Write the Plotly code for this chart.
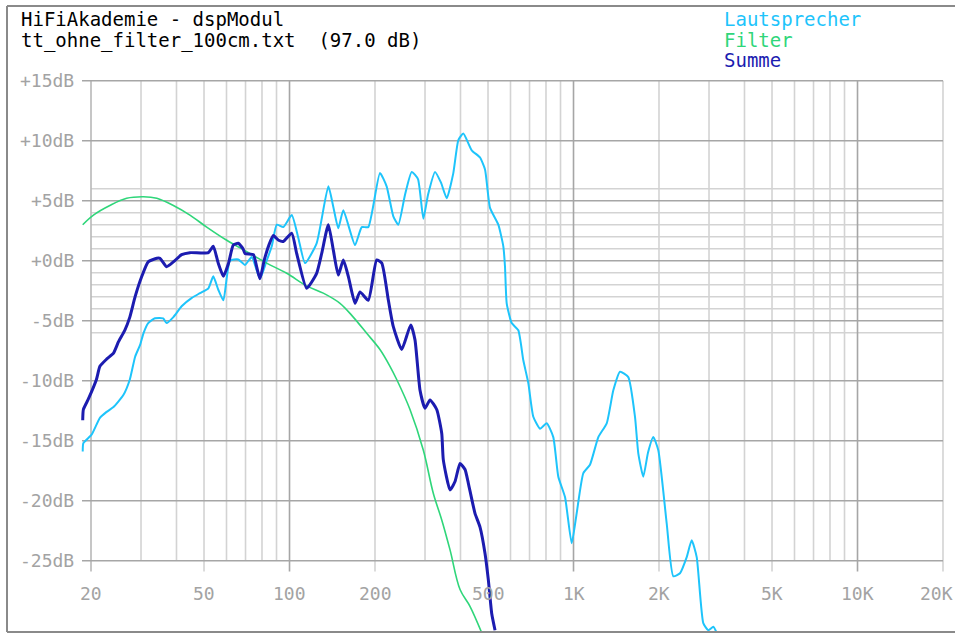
import numpy as np
import plotly.graph_objects as go

# ---------------- data ----------------
laut_f = [18.7, 18.8, 20.1, 21.5, 22.7, 24.0, 26.0, 27.4, 28.6, 29.8, 30.6, 31.8, 33.6, 35.9, 36.9,
          39.0, 41.7, 45.3, 48.4, 51.8, 53.9, 56.1, 58.5, 61.7, 66.0, 69.7, 73.6, 78.7, 83.1, 86.6,
          90.2, 95.1, 101.8, 107.4, 113.4, 124.6, 137.0, 142.6, 148.5, 154.7, 170.1, 179.6, 189.4,
          208.2, 219.8, 232.0, 241.6, 255.1, 269.3, 283.4, 296.0, 307.4, 325.4, 341.6, 357.8, 377.4,
          393.1, 409.3, 438.1, 468.6, 488.0, 508.2, 543.6, 566.0, 573.8, 581.8, 605.8, 639.2, 665.7,
          693.2, 721.9, 762.2, 804.6, 848.8, 884.0, 933.4, 985.4, 1026, 1083, 1143, 1223, 1309, 1381,
          1458, 1559, 1646, 1691, 1761, 1829, 1910, 1989, 2129, 2246, 2371, 2504, 2607, 2715, 2864,
          2983, 3107, 3194]
laut_db = [-15.9, -15.2, -14.5, -13.1, -12.6, -12.2, -11.2, -9.9, -8.0, -7.0, -6.05, -5.2, -4.8, -4.8, -5.2,
           -4.7, -3.8, -3.1, -2.7, -2.3, -1.3, -2.4, -3.3, 0.0, 0.1, -0.35, 0.3, -1.5, 0.0, 1.2,
           3.0, 2.8, 3.8, 1.9, -0.2, 1.45, 6.2, 4.5, 2.7, 4.2, 1.3, 2.8, 2.8,
           7.3, 6.2, 3.7, 3.0, 5.5, 7.4, 6.8, 3.5, 5.5, 7.4, 6.5, 5.2, 7.3,
           10.05, 10.6, 9.2, 8.6, 7.6, 4.4, 3.0, 1.2, -0.5, -3.55, -5.2, -5.8, -8.3,
           -10.2, -13.0, -14.0, -13.55, -14.7, -18.0, -19.7, -23.55, -21.05, -17.7, -17.0, -14.7, -13.55, -10.8,
           -9.25, -9.7, -13.0, -16.05, -18.0, -16.0, -14.7, -15.8, -21.9, -26.3, -26.05, -24.7, -23.3, -24.7, -30.2,
           -30.8, -30.5, -31.0]

filter_f = [18.7, 20.4, 23.3, 26.7, 30.6, 34.1, 39.0, 44.6, 51.1, 60.1, 70.7, 83.1, 97.8, 114.9, 131.5,
            150.6, 167.7, 187.0, 208.2, 225.8, 238.5, 265.6, 296.0, 321.0, 343.6, 367.5, 398.5, 432.0, 475.0]
filter_db = [3.0, 3.8, 4.6, 5.2, 5.33, 5.2, 4.6, 3.8, 2.8, 1.7, 0.75, -0.2, -1.05, -2.1, -2.7,
             -3.55, -4.7, -6.05, -7.4, -8.8, -9.9, -12.4, -15.8, -19.4, -21.6, -24.1, -27.4, -28.8, -31.0]

summe_f = [18.7, 18.8, 19.6, 20.9, 21.5, 22.7, 24.0, 25.0, 26.3, 27.4, 28.6, 30.2, 31.8, 34.1, 35.0,
           36.9, 39.0, 41.7, 44.6, 51.8, 53.9, 56.1, 58.5, 61.0, 63.4, 66.0, 68.6, 69.7, 74.6, 76.6, 78.7,
           81.5, 84.6, 87.7, 91.5, 95.1, 101.8, 106.0, 114.9, 124.6, 129.8, 137.0, 142.6, 148.5, 154.7,
           161.1, 170.1, 177.1, 189.4, 202.8, 211.3, 222.9, 232.0, 248.3, 267.2, 276.6, 288.1, 300.0,
           312.5, 329.9, 343.6, 348.0, 367.5, 382.6, 398.5, 415.0, 426.3, 449.9, 468.6, 488.0, 501.3,
           515.2, 529.3]
summe_db = [-13.3, -12.4, -11.5, -9.9, -8.8, -8.2, -7.7, -6.75, -5.8, -4.7, -3.0, -1.3, -0.1, 0.2, 0.2,
            -0.5, -0.1, 0.5, 0.67, 0.67, 1.2, -0.2, -1.3, -0.2, 1.3, 1.45, 1.0, 0.6, 0.5, -0.5, -1.5,
            0.06, 1.3, 2.1, 1.7, 1.6, 2.3, 0.6, -2.3, -1.05, 0.6, 3.0, 0.9, -1.2, 0.06,
            -1.3, -3.55, -2.6, -3.3, 0.06, -0.2, -3.3, -5.5, -7.4, -5.35, -6.6, -10.8, -12.3,
            -11.6, -12.4, -14.4, -16.6, -19.1, -18.4, -16.9, -17.4, -18.55, -21.05, -22.2, -24.4, -26.6,
            -29.4, -30.8]

y_ticks = [15, 10, 5, 0, -5, -10, -15, -20, -25]
y_tick_labels = ["+15dB", "+10dB", "+5dB", "+0dB", "-5dB", "-10dB", "-15dB", "-20dB", "-25dB"]
y_minor = [6, 4, 3, 2, 1, -1, -2, -3, -4, -6]
x_ticks = [20, 50, 100, 200, 500, 1000, 2000, 5000, 10000, 20000]
x_tick_labels = ["20", "50", "100", "200", "500", "1K", "2K", "5K", "10K", "20K"]
x_grid = [20, 30, 40, 50, 60, 70, 80, 90, 100, 200, 300, 400, 500, 600, 700, 800, 900,
          1000, 2000, 3000, 4000, 5000, 6000, 7000, 8000, 9000, 10000, 20000]
x_grid_dark = [100, 1000, 10000]

title_lines = ["HiFiAkademie - dspModul", "tt_ohne_filter_100cm.txt\u00a0\u00a0(97.0 dB)"]
series_names = ["Lautsprecher", "Filter", "Summe"]
series_colors = ["#1ec4fb", "#2fd67a", "#1c1cb0"]

# ---------------- layout geometry ----------------
W, H = 955, 635
ML, MR, MT, MB = 7, 0, 6, 3
PX_PER_DEC = 284.0
PX_PER_DB = 12.0
X0_PX = 91.0           # pixel of 20 Hz
Y0_PX = 260.7          # pixel of 0 dB

lg20 = np.log10(20)
x_lo = lg20 - (X0_PX - ML) / PX_PER_DEC
x_hi = lg20 + (W - MR - X0_PX) / PX_PER_DEC
y_hi = (Y0_PX - MT) / PX_PER_DB
y_lo = (Y0_PX - (H - MB)) / PX_PER_DB

def px2paper_x(px):
    return (px - ML) / (W - ML - MR)

def px2paper_y(py):
    return ((H - MB) - py) / (H - MT - MB)

LX = np.log10
left_tick_x = lg20 - 9 / PX_PER_DEC
gmin_x, gmax_x = LX(20), LX(20000)

LIGHT = "#d3d3d3"
DARK = "#a6a6a6"
GW = 1.6

shapes = []
# minor horizontal grid
for v in y_minor:
    shapes.append(dict(type="line", xref="x", yref="y", x0=gmin_x, x1=gmax_x, y0=v, y1=v,
                       line=dict(color=LIGHT, width=GW), layer="below"))
# vertical grid
for f in x_grid:
    col = DARK if f in x_grid_dark else LIGHT
    if f == 20:
        col = "#b8b8b8"
    ybot = -25.9 if f in x_ticks else -25
    shapes.append(dict(type="line", xref="x", yref="y", x0=LX(f), x1=LX(f), y0=15, y1=ybot,
                       line=dict(color=col, width=GW), layer="below"))
# major horizontal grid
for v in y_ticks:
    shapes.append(dict(type="line", xref="x", yref="y", x0=left_tick_x, x1=gmax_x, y0=v, y1=v,
                       line=dict(color=DARK, width=GW), layer="below"))
# frame
for (x0, y0, x1, y1) in [(0, 1, 1, 1), (0, 0, 0, 1), (0, 0, 1, 0)]:
    shapes.append(dict(type="line", xref="paper", yref="paper", x0=x0, y0=y0, x1=x1, y1=y1,
                       line=dict(color="#8a8a8a", width=2)))

FONT = "DejaVu Sans Mono"
annotations = []
for v, lab in zip(y_ticks, y_tick_labels):
    annotations.append(dict(xref="paper", yref="y", x=px2paper_x(76), y=v, text=lab,
                            showarrow=False, xanchor="right", yanchor="middle",
                            font=dict(family=FONT, size=18, color="#a3a3a3")))
for f, lab in zip(x_ticks, x_tick_labels):
    if f == 20000:
        annotations.append(dict(xref="paper", yref="paper", x=px2paper_x(955), y=px2paper_y(593),
                                text=lab, showarrow=False, xanchor="right", yanchor="middle",
                                font=dict(family=FONT, size=18, color="#a3a3a3")))
    else:
        annotations.append(dict(xref="x", yref="paper", x=LX(f), y=px2paper_y(593), text=lab,
                                showarrow=False, xanchor="center", yanchor="middle",
                                font=dict(family=FONT, size=18, color="#a3a3a3")))
for i, t in enumerate(title_lines):
    annotations.append(dict(xref="paper", yref="paper", x=px2paper_x(19), y=px2paper_y(19.5 + 20.5 * i),
                            text=t, showarrow=False, xanchor="left", yanchor="middle",
                            font=dict(family=FONT, size=19, color="#000000")))
for i, (n, c) in enumerate(zip(series_names, series_colors)):
    annotations.append(dict(xref="paper", yref="paper", x=px2paper_x(722), y=px2paper_y(19.5 + 20.5 * i),
                            text=n, showarrow=False, xanchor="left", yanchor="middle",
                            font=dict(family=FONT, size=19, color=c)))

fig = go.Figure()
fig.add_trace(go.Scatter(x=LX(np.array(laut_f)), y=laut_db, mode="lines", name=series_names[0],
                         line=dict(color=series_colors[0], width=2, shape="spline", smoothing=0.5)))
fig.add_trace(go.Scatter(x=LX(np.array(filter_f)), y=filter_db, mode="lines", name=series_names[1],
                         line=dict(color=series_colors[1], width=1.6, shape="spline", smoothing=1)))
fig.add_trace(go.Scatter(x=LX(np.array(summe_f)), y=summe_db, mode="lines", name=series_names[2],
                         line=dict(color=series_colors[2], width=3, shape="spline", smoothing=0.5)))

fig.update_layout(
    width=W, height=H,
    margin=dict(l=ML, r=MR, t=MT, b=MB, pad=0),
    paper_bgcolor="white", plot_bgcolor="white",
    showlegend=False,
    xaxis=dict(range=[x_lo, x_hi], visible=False, fixedrange=True),
    yaxis=dict(range=[y_lo, y_hi], visible=False, fixedrange=True),
    shapes=shapes, annotations=annotations,
)
fig.write_html("out.html", config={"displayModeBar": False},
               post_script="document.body.style.margin='0';document.body.style.overflow='hidden';")
